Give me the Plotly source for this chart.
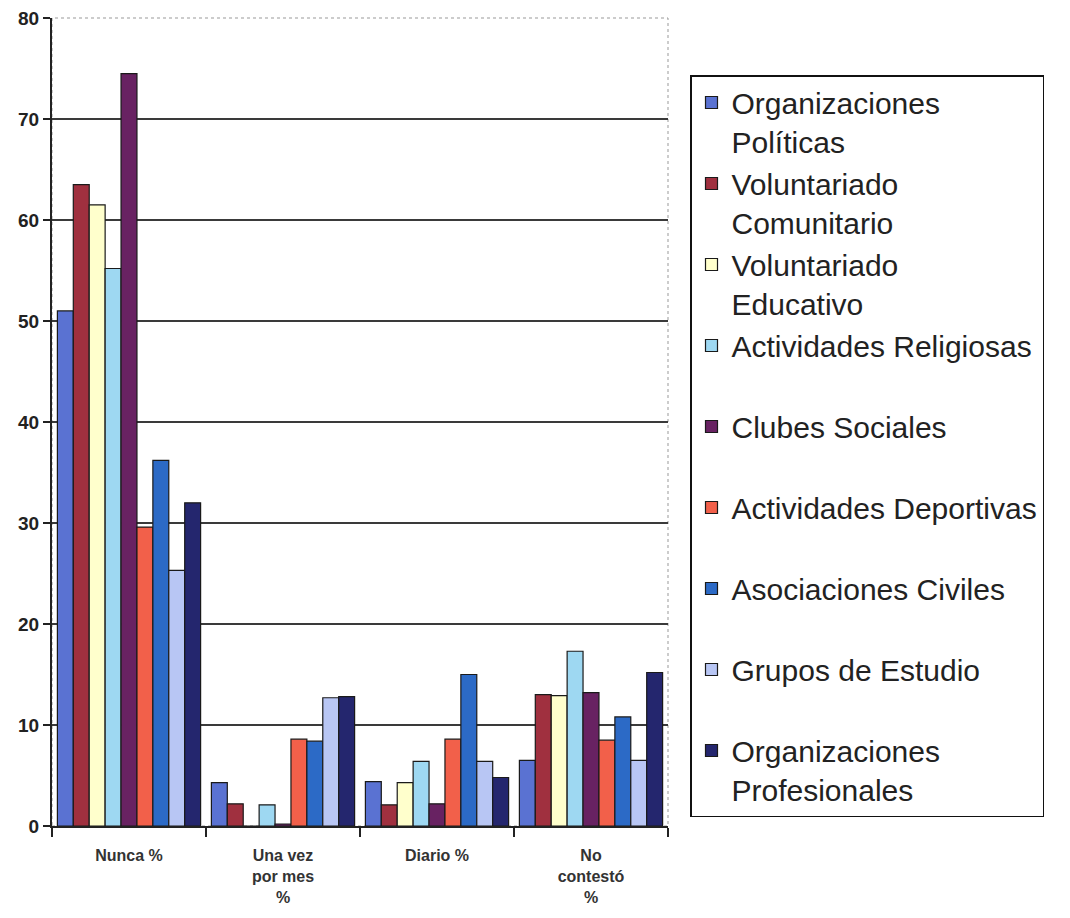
import plotly.graph_objects as go

categories = ["Nunca %", "Una vez<br>por mes<br>%", "Diario %", "No<br>contestó<br>%"]

series_names = [
    "Organizaciones<br>Políticas",
    "Voluntariado<br>Comunitario",
    "Voluntariado<br>Educativo",
    "Actividades Religiosas<br> ",
    "Clubes Sociales<br> ",
    "Actividades Deportivas<br> ",
    "Asociaciones Civiles<br> ",
    "Grupos de Estudio<br> ",
    "Organizaciones<br>Profesionales",
]

org_politicas = [51.0, 4.3, 4.4, 6.5]
vol_comunitario = [63.5, 2.2, 2.1, 13.0]
vol_educativo = [61.5, 0.0, 4.3, 12.9]
act_religiosas = [55.2, 2.1, 6.4, 17.3]
clubes_sociales = [74.5, 0.2, 2.2, 13.2]
act_deportivas = [29.6, 8.6, 8.6, 8.5]
asoc_civiles = [36.2, 8.4, 15.0, 10.8]
grupos_estudio = [25.3, 12.7, 6.4, 6.5]
org_profesionales = [32.0, 12.8, 4.8, 15.2]

series_values = [org_politicas, vol_comunitario, vol_educativo, act_religiosas,
                 clubes_sociales, act_deportivas, asoc_civiles, grupos_estudio,
                 org_profesionales]

colors = ["#5a72d2", "#a0303f", "#ffffcc", "#9ed8f2", "#682262",
          "#f2604a", "#2c6ac6", "#b8c6f4", "#24266e"]

fig = go.Figure()
for i, (name, vals, col) in enumerate(zip(series_names, series_values, colors)):
    fig.add_trace(go.Bar(
        x=categories, y=vals, name=name, legendgroup=f"g{i}",
        marker=dict(color=col, line=dict(color="#1a1a1a", width=1.2)),
    ))

W, H = 1070, 918
fig.update_layout(
    width=W, height=H,
    margin=dict(l=0, r=0, t=0, b=0, autoexpand=False),
    paper_bgcolor="white", plot_bgcolor="white",
    barmode="group", bargap=0.07, bargroupgap=0,
    font=dict(family="Liberation Sans, Arial, sans-serif", color="#222"),
    xaxis=dict(
        domain=[52 / W, 668 / W], automargin=False,
        showline=True, linecolor="#222", linewidth=2,
        ticks="outside", ticklen=9, tickwidth=2, tickcolor="#222",
        tickson="boundaries", showgrid=False, ticklabelstandoff=14,
        tickfont=dict(size=16, family="Liberation Sans, Arial", color="#333"),
        tickprefix="<b>", ticksuffix="</b>",
    ),
    yaxis=dict(
        domain=[(H - 826) / H, (H - 18) / H], automargin=False,
        range=[0, 80], dtick=10,
        showline=True, linecolor="#222", linewidth=2,
        ticks="outside", ticklen=7, tickwidth=2, tickcolor="#222",
        showgrid=True, gridcolor="#3a3a3a", gridwidth=1.5,
        zeroline=False,
        tickfont=dict(size=19, family="Liberation Sans, Arial", color="#222"),
        tickprefix="<b>", ticksuffix="</b>",
    ),
    legend=dict(
        x=690 / W, y=1 - 75 / H, xanchor="left", yanchor="top",
        bordercolor="#111", borderwidth=1.5, bgcolor="white",
        font=dict(size=30, family="Liberation Sans, Arial", color="#222"),
        valign="top", tracegroupgap=0,
    ),
    shapes=[dict(type="rect", xref="x domain", yref="y domain",
                 x0=0, x1=1, y0=0, y1=1,
                 line=dict(color="#999", width=1, dash="dot"), layer="below")],
)

fig.write_html("out.html")
